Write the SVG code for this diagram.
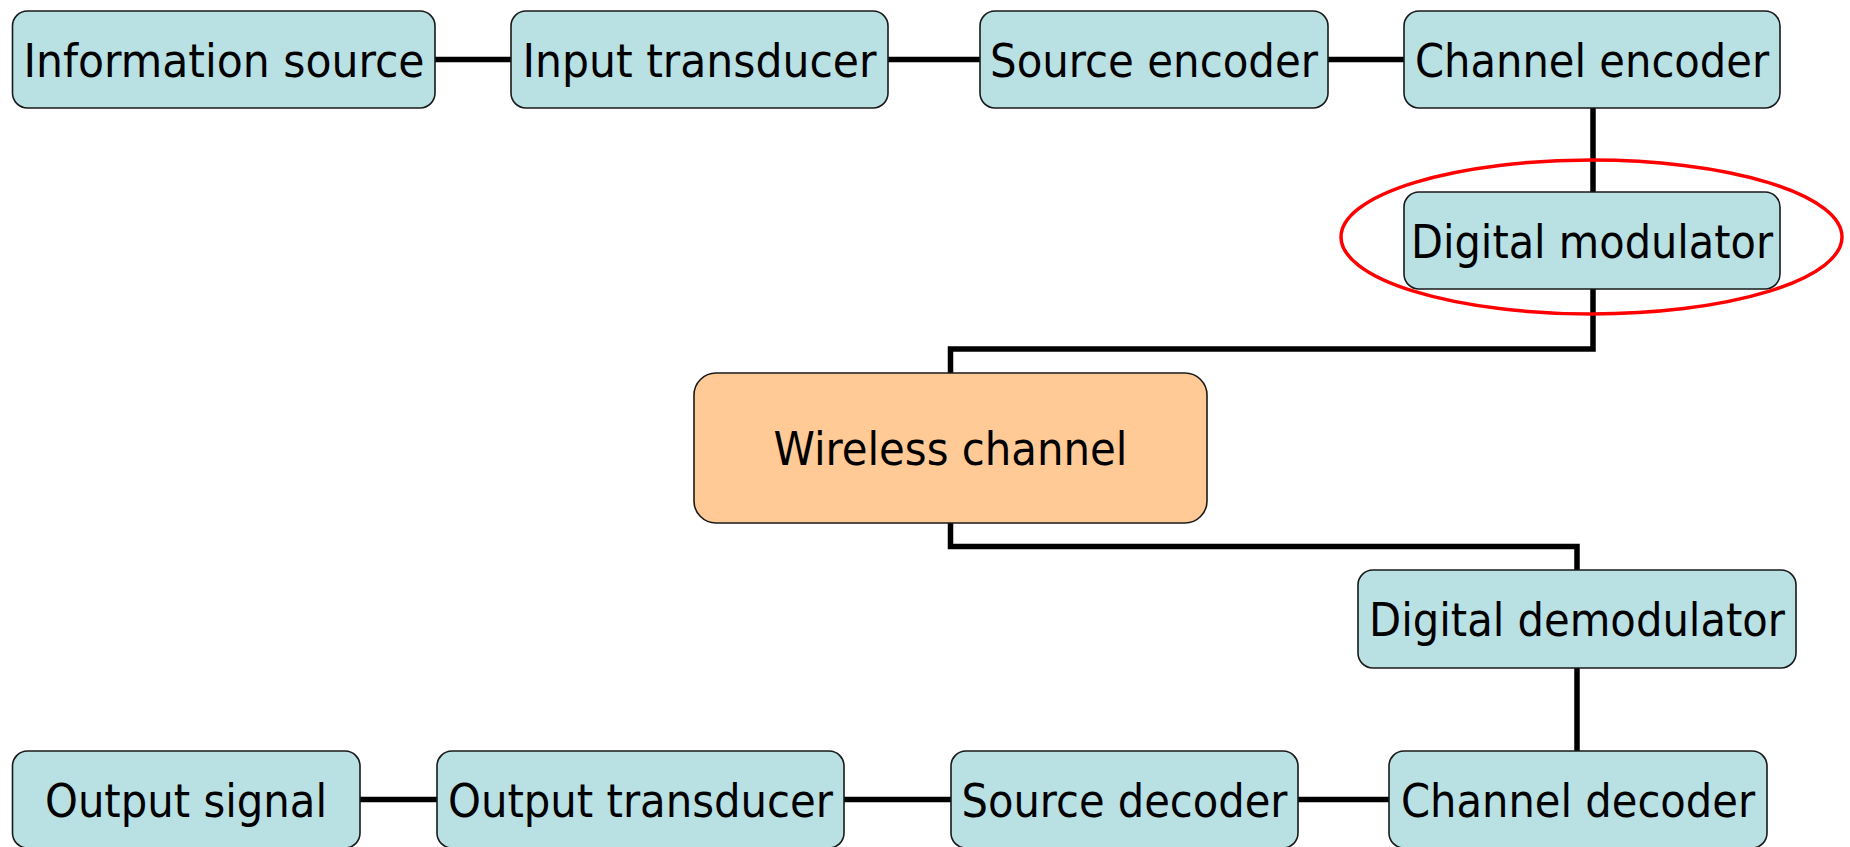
<svg xmlns="http://www.w3.org/2000/svg" width="1850" height="847" viewBox="0 0 1850 847">
  <style>
    .box { fill: #b9e0e3; stroke: #1a1a1a; stroke-width: 1.6; }
    .chan { fill: #ffca96; stroke: #1a1a1a; stroke-width: 1.6; }
    .lbl { font-family: "DejaVu Sans Condensed", "DejaVu Sans", "Liberation Sans", sans-serif; font-stretch: condensed; font-size: 47px; fill: #000; text-anchor: middle; }
    .wire { fill: none; stroke: #000; stroke-width: 5.5; stroke-linejoin: miter; stroke-linecap: butt; }
    .mark { fill: none; stroke: #ff0000; stroke-width: 3.5; }
  </style>

  <rect width="1850" height="847" fill="#ffffff"/>

  <!-- links between the blocks -->
  <g id="connectors">
    <line class="wire" x1="435" y1="59.5" x2="511" y2="59.5"/>
    <line class="wire" x1="888" y1="59.5" x2="980" y2="59.5"/>
    <line class="wire" x1="1328" y1="59.5" x2="1404" y2="59.5"/>
    <line class="wire" x1="1593" y1="108" x2="1593" y2="192"/>
    <polyline class="wire" points="1593,289 1593,349 950.5,349 950.5,373"/>
    <polyline class="wire" points="950.5,523 950.5,546.5 1577,546.5 1577,570"/>
    <line class="wire" x1="1577" y1="668" x2="1577" y2="751"/>
    <line class="wire" x1="360" y1="799.5" x2="437" y2="799.5"/>
    <line class="wire" x1="844" y1="799.5" x2="951" y2="799.5"/>
    <line class="wire" x1="1298" y1="799.5" x2="1389" y2="799.5"/>
  </g>

  <!-- transmitter chain -->
  <g id="information-source">
    <rect class="box" x="12.5" y="11" width="422.5" height="97" rx="15"/>
    <text class="lbl" x="224" y="76.5" textLength="401" lengthAdjust="spacingAndGlyphs">Information source</text>
  </g>
  <g id="input-transducer">
    <rect class="box" x="511" y="11" width="377" height="97" rx="15"/>
    <text class="lbl" x="699.5" y="76.5" textLength="354" lengthAdjust="spacingAndGlyphs">Input transducer</text>
  </g>
  <g id="source-encoder">
    <rect class="box" x="980" y="11" width="348" height="97" rx="15"/>
    <text class="lbl" x="1154" y="76.5" textLength="328" lengthAdjust="spacingAndGlyphs">Source encoder</text>
  </g>
  <g id="channel-encoder">
    <rect class="box" x="1404" y="11" width="376" height="97" rx="15"/>
    <text class="lbl" x="1592" y="76.5" textLength="354" lengthAdjust="spacingAndGlyphs">Channel encoder</text>
  </g>
  <g id="digital-modulator">
    <rect class="box" x="1404" y="192" width="376" height="97" rx="15"/>
    <text class="lbl" x="1592" y="257.5" textLength="362" lengthAdjust="spacingAndGlyphs">Digital modulator</text>
  </g>

  <!-- medium -->
  <g id="wireless-channel">
    <rect class="chan" x="694" y="373" width="513" height="150" rx="22"/>
    <text class="lbl" x="950.5" y="465" textLength="354" lengthAdjust="spacingAndGlyphs">Wireless channel</text>
  </g>

  <!-- receiver chain -->
  <g id="digital-demodulator">
    <rect class="box" x="1358" y="570" width="438" height="98" rx="15"/>
    <text class="lbl" x="1577" y="636" textLength="416" lengthAdjust="spacingAndGlyphs">Digital demodulator</text>
  </g>
  <g id="output-signal">
    <rect class="box" x="12.5" y="751" width="347.5" height="97" rx="15"/>
    <text class="lbl" x="186" y="816.5" textLength="282" lengthAdjust="spacingAndGlyphs">Output signal</text>
  </g>
  <g id="output-transducer">
    <rect class="box" x="437" y="751" width="407" height="97" rx="15"/>
    <text class="lbl" x="640.5" y="816.5" textLength="385" lengthAdjust="spacingAndGlyphs">Output transducer</text>
  </g>
  <g id="source-decoder">
    <rect class="box" x="951" y="751" width="347" height="97" rx="15"/>
    <text class="lbl" x="1124.5" y="816.5" textLength="326" lengthAdjust="spacingAndGlyphs">Source decoder</text>
  </g>
  <g id="channel-decoder">
    <rect class="box" x="1389" y="751" width="378" height="97" rx="15"/>
    <text class="lbl" x="1578" y="816.5" textLength="354" lengthAdjust="spacingAndGlyphs">Channel decoder</text>
  </g>

  <!-- highlight ring around the modulator -->
  <ellipse class="mark" cx="1591.5" cy="237" rx="250.5" ry="77"/>
</svg>
